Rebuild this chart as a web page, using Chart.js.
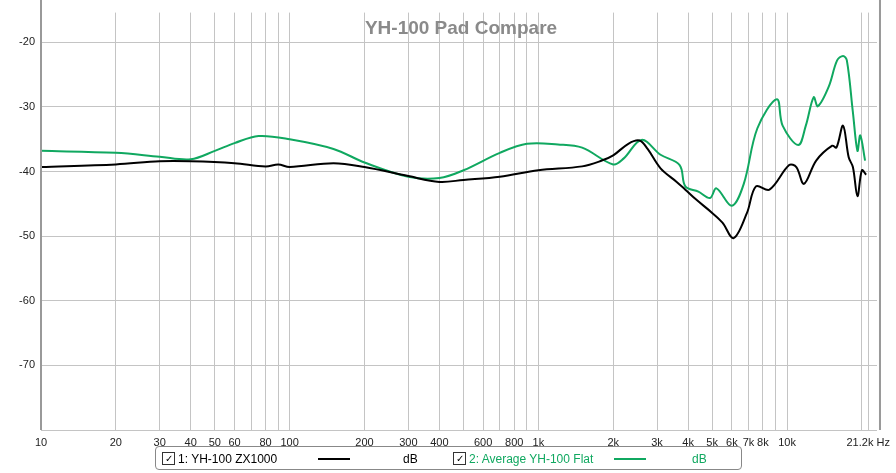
<!DOCTYPE html>
<html><head><meta charset="utf-8">
<script src="https://cdn.jsdelivr.net/npm/chart.js@4"></script>
<style>
html,body{margin:0;padding:0;background:#fff;width:896px;height:473px;overflow:hidden;font-family:"Liberation Sans",Arial,sans-serif}
#wrap{position:absolute;left:0;top:0;width:896px;height:473px}
#leg{position:absolute;left:155px;top:446px;width:587px;height:24px;border:1px solid #888;border-radius:4px;font-size:12px;box-sizing:border-box}
#leg span{position:absolute;top:5px}
.cb{display:inline-block;width:11px;height:11px;border:1px solid #333;font-size:10px;line-height:11px;text-align:center;position:absolute;top:5px}
.ln{position:absolute;top:11px;width:32px;height:2px}
</style></head><body>
<div id="wrap"><canvas id="c" width="896" height="473"></canvas></div>
<div id="leg">
 <div class="cb" style="left:6px">✓</div><span style="left:22px">1: YH-100 ZX1000</span>
 <div class="ln" style="left:162px;background:#000"></div><span style="left:247px">dB</span>
 <div class="cb" style="left:297px">✓</div><span style="left:313px;color:#10a860">2: Average YH-100 Flat</span>
 <div class="ln" style="left:458px;background:#10a860"></div><span style="left:536px;color:#10a860">dB</span>
</div>
<script>
const blackFreq=[10,20,30,40,60,80,90,100,150,200,300,400,500,700,1000,1500,1800,2000,2300,2550,2750,3100,3600,3900,4300,5000,5500,6100,6900,7500,8500,10200,10900,11700,13100,15200,15800,16800,17700,18400,19200,20000,20800];
const blackDb=[-39.3,-38.9,-38.4,-38.4,-38.7,-39.2,-38.9,-39.3,-38.7,-39.3,-40.7,-41.6,-41.3,-40.8,-39.8,-39.2,-38.3,-37.5,-35.7,-35.2,-36.5,-39.5,-41.6,-42.8,-44.3,-46.4,-47.9,-50.3,-46.4,-42.3,-42.8,-39.0,-39.3,-41.9,-38.3,-36.0,-36.3,-32.9,-37.8,-39.3,-43.8,-39.8,-40.5];
const greenFreq=[10,20,30,40,50,60,75,100,150,200,300,400,500,700,900,1200,1500,2000,2200,2600,3100,3700,3900,4400,4900,5200,6000,6700,7600,9100,9600,11100,11900,12800,13300,14700,15900,16800,17400,18400,19200,19700,20600];
const greenDb=[-36.8,-37.1,-37.7,-38.1,-36.8,-35.6,-34.5,-35.0,-36.5,-38.6,-40.8,-41.0,-39.8,-37.1,-35.7,-35.8,-36.3,-38.9,-38.0,-35.1,-37.4,-39.0,-42.3,-43.1,-44.1,-42.6,-45.3,-41.9,-33.3,-28.8,-32.9,-35.9,-32.9,-28.5,-29.9,-26.9,-22.8,-22.1,-22.8,-30.8,-36.8,-34.4,-38.3];
const yTicks=[-20,-30,-40,-50,-60,-70];
const xGrid=[10,20,30,40,50,60,70,80,90,100,200,300,400,500,600,700,800,900,1000,2000,3000,4000,5000,6000,7000,8000,9000,10000,20000,21200];
const xLabels={10:'10',20:'20',30:'30',40:'40',50:'50',60:'60',80:'80',100:'100',200:'200',300:'300',400:'400',600:'600',800:'800',1000:'1k',2000:'2k',3000:'3k',4000:'4k',5000:'5k',6000:'6k',7000:'7k',8000:'8k',10000:'10k',21200:'21.2k Hz'};
const title='YH-100 Pad Compare';
const titlePlugin={id:'t',afterDraw(ch){const c=ch.ctx;c.save();c.font='bold 19px "Liberation Sans",Arial';c.fillStyle='#8a8a8a';c.textAlign='center';c.fillText(title,461,34);
c.strokeStyle='#999';c.lineWidth=2;c.beginPath();c.moveTo(ch.chartArea.left,0);c.lineTo(ch.chartArea.left,ch.chartArea.bottom);c.moveTo(ch.chartArea.right+3,0);c.lineTo(ch.chartArea.right+3,ch.chartArea.bottom);c.stroke();c.restore();}};
new Chart(document.getElementById('c'),{type:'line',
data:{datasets:[
{data:blackFreq.map((f,i)=>({x:f,y:blackDb[i]})),borderColor:'#000',borderWidth:2,pointRadius:0,tension:0.35},
{data:greenFreq.map((f,i)=>({x:f,y:greenDb[i]})),borderColor:'#10a860',borderWidth:2,pointRadius:0,tension:0.35}]},
options:{responsive:false,animation:false,layout:{autoPadding:false,padding:{left:0,right:11,top:0,bottom:0}},
plugins:{legend:{display:false},tooltip:{enabled:false}},
scales:{
x:{type:'logarithmic',min:10,max:23000,afterBuildTicks(a){a.ticks=xGrid.map(v=>({value:v}))},afterFit(a){a.height=43},
 grid:{color:'#c4c4c4',drawTicks:false},border:{display:false},
 ticks:{autoSkip:false,maxRotation:0,padding:6,color:'#222',font:{size:11,family:'"Liberation Sans",Arial'},callback:(v)=>xLabels[v]||''}},
y:{min:-80,max:-15.4,afterBuildTicks(a){a.ticks=yTicks.concat([-80]).map(v=>({value:v}))},afterFit(a){a.width=41},
 grid:{color:'#c4c4c4',drawTicks:false},border:{display:false},
 ticks:{padding:6,color:'#222',font:{size:11,family:'"Liberation Sans",Arial'},callback:v=>v===-80?'':String(v)}}}},
plugins:[titlePlugin]});
</script></body></html>
